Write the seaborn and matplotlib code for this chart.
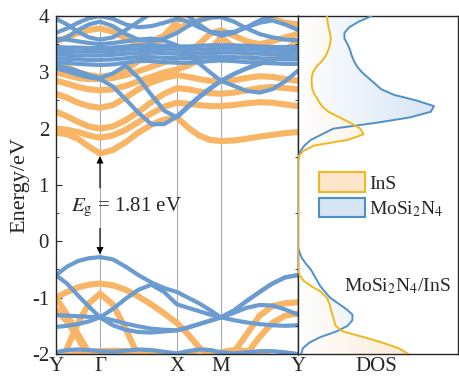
import numpy as np
import pandas as pd
import matplotlib
matplotlib.use('Agg')
import matplotlib.pyplot as plt
import seaborn as sns
from matplotlib.colors import LinearSegmentedColormap
from matplotlib.patches import Patch

# high-symmetry path Y-G-X-M-Y (segment lengths from the figure)
kpath_labels = ['Y', 'Γ', 'X', 'M', 'Y']
kpath_pos = [0.0, 1.0, 2.75, 3.75, 5.5]
seg_points = [5, 7, 5, 7]

# InS bands (orange), energies in eV at each k sample
ins_bands = {
    'v1': [-1.00, -0.90, -0.82, -0.77, -0.75, -0.78, -0.86, -0.98, -1.12, -1.28, -1.45, -1.65, -1.88, -2.05, -2.15, -1.97, -1.65, -1.32, -1.15, -1.10, -1.08],
    'v2': [-2.60, -1.90, -1.45, -1.10, -0.93, -1.12, -1.55, -2.05, -2.50, -2.70, -2.80, -2.80, -2.70, -2.60, -2.50, -2.45, -2.40, -2.30, -2.20, -2.10, -2.05],
    'v3': [-1.00, -1.30, -1.65, -1.98, -2.25, -2.40, -2.45, -2.40, -2.30, -2.15, -2.05, -1.98, -1.93, -1.95, -2.00, -2.10, -2.30, -2.45, -2.50, -2.40, -2.30],
    'v4': [-2.10, -2.04, -1.99, -1.96, -1.95, -1.94, -1.95, -1.97, -2.00, -2.03, -2.08, -2.10, -2.08, -2.04, -1.97, -1.93, -1.95, -2.00, -2.06, -2.10, -2.12],
    'v5': [-1.22, -1.42, -1.72, -2.05, -2.40, -2.60, -2.70, -2.70, -2.65, -2.60, -2.55, -2.55, -2.50, -2.45, -2.40, -2.25, -2.00, -1.70, -1.45, -1.32, -1.28],
    'c1': [1.93, 1.90, 1.82, 1.68, 1.56, 1.62, 1.76, 1.93, 2.07, 2.16, 2.20, 2.02, 1.88, 1.80, 1.78, 1.79, 1.82, 1.86, 1.89, 1.92, 1.94],
    'c2': [2.00, 1.98, 1.94, 1.88, 1.84, 1.88, 1.98, 2.12, 2.27, 2.39, 2.46, 2.44, 2.42, 2.40, 2.40, 2.42, 2.45, 2.47, 2.46, 2.43, 2.40],
    'c3': [2.30, 2.22, 2.12, 2.04, 2.00, 2.04, 2.15, 2.30, 2.47, 2.62, 2.72, 2.70, 2.66, 2.63, 2.62, 2.64, 2.68, 2.72, 2.74, 2.72, 2.70],
    'c4': [2.62, 2.55, 2.46, 2.40, 2.37, 2.42, 2.55, 2.70, 2.82, 2.90, 2.95, 2.92, 2.88, 2.85, 2.84, 2.86, 2.90, 2.93, 2.92, 2.88, 2.85],
    'c5': [2.85, 2.80, 2.74, 2.70, 2.68, 2.70, 2.76, 2.84, 2.92, 3.00, 3.05, 3.12, 3.22, 3.40, 3.62, 3.45, 3.30, 3.20, 3.25, 3.40, 3.55],
    'c6': [3.00, 2.95, 2.90, 2.88, 2.88, 2.90, 2.95, 3.02, 3.10, 3.18, 3.25, 3.35, 3.50, 3.68, 3.75, 3.65, 3.55, 3.50, 3.55, 3.62, 3.68],
    'c7': [3.55, 3.62, 3.70, 3.75, 3.78, 3.72, 3.60, 3.52, 3.55, 3.65, 3.78, 3.85, 3.92, 3.98, 4.05, 4.10, 4.10, 4.05, 3.95, 3.88, 3.85],
    'c8': [3.20, 3.10, 3.00, 2.95, 2.92, 2.95, 3.05, 3.20, 3.40, 3.65, 3.90, 4.10, 4.20, 4.20, 4.20, 4.20, 4.20, 4.20, 4.20, 4.20, 4.20],
}

# MoSi2N4 bands (blue)
mosi_bands = {
    'v1': [-0.60, -0.45, -0.35, -0.30, -0.28, -0.32, -0.45, -0.60, -0.73, -0.83, -0.90, -1.00, -1.10, -1.22, -1.35, -1.23, -1.06, -0.90, -0.75, -0.64, -0.60],
    'v2': [-0.60, -0.75, -0.96, -1.16, -1.35, -1.49, -1.57, -1.61, -1.62, -1.60, -1.58, -1.53, -1.47, -1.41, -1.35, -1.27, -1.18, -1.13, -1.14, -1.21, -1.30],
    'v3': [-1.52, -1.50, -1.47, -1.42, -1.35, -1.20, -1.02, -0.86, -0.77, -0.90, -1.12, -1.18, -1.24, -1.30, -1.35, -1.40, -1.44, -1.47, -1.49, -1.50, -1.49],
    'v4': [-1.31, -1.32, -1.33, -1.34, -1.35, -1.40, -1.46, -1.51, -1.55, -1.57, -1.58, -1.53, -1.47, -1.41, -1.35, -1.23, -1.06, -0.90, -0.75, -0.64, -0.60],
    'v5': [-1.97, -1.93, -1.92, -1.93, -1.95, -1.96, -1.94, -1.92, -1.93, -1.96, -1.99, -1.95, -1.92, -1.93, -1.97, -1.99, -1.97, -1.95, -1.95, -1.97, -2.00],
    'c1': [3.07, 3.02, 2.96, 2.91, 2.88, 2.75, 2.52, 2.28, 2.08, 2.08, 2.22, 2.40, 2.57, 2.72, 2.85, 2.97, 3.07, 3.15, 3.22, 3.27, 3.30],
    'c2': [3.12, 3.08, 3.02, 2.95, 2.90, 2.98, 3.12, 2.90, 2.60, 2.32, 2.20, 2.38, 2.55, 2.70, 2.85, 2.76, 2.67, 2.64, 2.70, 2.84, 3.03],
    'c3': [3.60, 3.58, 3.55, 3.52, 3.50, 3.52, 3.55, 3.58, 3.60, 3.56, 3.48, 3.33, 3.16, 3.00, 2.85, 2.97, 3.07, 3.15, 3.22, 3.27, 3.30],
    'd1': [3.18, 3.17, 3.15, 3.14, 3.13, 3.14, 3.17, 3.20, 3.20, 3.18, 3.17, 3.17, 3.18, 3.20, 3.21, 3.20, 3.18, 3.17, 3.16, 3.15, 3.15],
    'd2': [3.25, 3.24, 3.23, 3.22, 3.22, 3.23, 3.25, 3.27, 3.27, 3.26, 3.25, 3.25, 3.26, 3.27, 3.27, 3.27, 3.26, 3.25, 3.24, 3.23, 3.23],
    'd3': [3.32, 3.31, 3.30, 3.30, 3.30, 3.31, 3.33, 3.34, 3.35, 3.34, 3.33, 3.32, 3.33, 3.34, 3.35, 3.35, 3.34, 3.33, 3.32, 3.31, 3.30],
    'd4': [3.38, 3.38, 3.37, 3.37, 3.37, 3.38, 3.40, 3.41, 3.42, 3.41, 3.40, 3.40, 3.40, 3.41, 3.42, 3.42, 3.41, 3.40, 3.39, 3.38, 3.38],
    'd5': [3.45, 3.44, 3.44, 3.43, 3.43, 3.44, 3.46, 3.48, 3.48, 3.47, 3.46, 3.46, 3.47, 3.48, 3.48, 3.48, 3.47, 3.46, 3.45, 3.45, 3.45],
    'u1': [3.55, 3.62, 3.75, 3.85, 3.90, 3.82, 3.68, 3.58, 3.55, 3.60, 3.70, 3.82, 3.92, 3.97, 3.98, 3.90, 3.78, 3.68, 3.62, 3.58, 3.57],
    'u2': [3.95, 3.85, 3.72, 3.62, 3.58, 3.62, 3.75, 3.90, 4.05, 4.10, 4.10, 4.00, 3.85, 3.72, 3.65, 3.70, 3.80, 3.92, 4.00, 4.05, 4.05],
    'u3': [3.70, 3.78, 3.88, 3.96, 4.00, 3.95, 3.85, 3.80, 3.82, 3.88, 3.95, 3.90, 3.80, 3.72, 3.70, 3.72, 3.80, 3.88, 3.92, 3.85, 3.75],
}

# projected DOS (arb. units) on an energy grid from -2 to 4 eV, step 0.1
dos_ins = [0.69, 0.63, 0.53, 0.41, 0.28, 0.235, 0.225, 0.215, 0.205, 0.195,
           0.18, 0.145, 0.085, 0.035, 0.01, 0.0, 0.0, 0.0, 0.0, 0.0,
           0.0, 0.0, 0.0, 0.0, 0.0, 0.0, 0.0, 0.0, 0.0, 0.0,
           0.0, 0.0, 0.0, 0.0, 0.0, 0.003, 0.03, 0.10, 0.31, 0.41,
           0.39, 0.33, 0.26, 0.19, 0.15, 0.127, 0.105, 0.09, 0.085, 0.085,
           0.093, 0.115, 0.15, 0.175, 0.19, 0.20, 0.205, 0.20, 0.19, 0.185, 0.18]
dos_mosi = [0.02, 0.03, 0.07, 0.14, 0.24, 0.31, 0.34, 0.34, 0.30, 0.25,
            0.20, 0.17, 0.14, 0.12, 0.10, 0.08, 0.05, 0.025, 0.01, 0.0,
            0.0, 0.0, 0.0, 0.0, 0.0, 0.0, 0.0, 0.0, 0.0, 0.0,
            0.0, 0.0, 0.0, 0.0, 0.0, 0.003, 0.015, 0.04, 0.08, 0.15,
            0.22, 0.48, 0.70, 0.83, 0.85, 0.74, 0.60, 0.52, 0.48, 0.44,
            0.40, 0.37, 0.35, 0.335, 0.325, 0.31, 0.29, 0.29, 0.32, 0.38, 0.46]

c_ins = '#f8b565'
c_mosi = '#6a9bd1'
c_ins_dos = '#f2b71f'
c_mosi_dos = '#4f8fcb'

# k sample grid along the path
kgrid = [np.linspace(kpath_pos[i], kpath_pos[i + 1], n) for i, n in enumerate(seg_points)]
kgrid = np.concatenate([kgrid[0]] + [g[1:] for g in kgrid[1:]])
dos_energy = np.round(np.arange(-2.0, 4.0001, 0.1), 2)

rows = []
for mat, bands in [('InS', ins_bands), ('MoSi2N4', mosi_bands)]:
    for name, vals in bands.items():
        for k, e in zip(kgrid, vals):
            rows.append((mat, f'{mat}_{name}', k, e))
df = pd.DataFrame(rows, columns=['material', 'band', 'k', 'energy'])

sns.set_style('ticks')
plt.rcParams['font.family'] = ['Liberation Serif', 'DejaVu Serif']
plt.rcParams['mathtext.fontset'] = 'stix'
plt.rcParams['axes.linewidth'] = 1.0
plt.rcParams['axes.unicode_minus'] = False

fig, (ax, axd) = plt.subplots(1, 2, figsize=(4.6, 3.79), dpi=100, sharey=True,
                              gridspec_kw={'width_ratios': [242, 160]})
fig.subplots_adjust(left=0.1217, right=0.9957, top=0.9578, bottom=0.066, wspace=0)

for kx in kpath_pos[1:-1]:
    ax.axvline(kx, color='#aaaaaa', lw=0.8, zorder=0)

sns.lineplot(data=df[df.material == 'InS'], x='k', y='energy', units='band',
             estimator=None, sort=False, color=c_ins, lw=4.4, ax=ax,
             solid_joinstyle='round', solid_capstyle='round', legend=False)
sns.lineplot(data=df[df.material == 'MoSi2N4'], x='k', y='energy', units='band',
             estimator=None, sort=False, color=c_mosi, lw=3.0, ax=ax,
             solid_joinstyle='round', solid_capstyle='round', legend=False)

ax.set_xlim(kpath_pos[0], kpath_pos[-1])
ax.set_ylim(-2, 4)
ax.set_xticks(kpath_pos)
ax.set_xticklabels(kpath_labels, fontsize=15)
ax.set_xlabel('')
ax.set_ylabel('Energy/eV', fontsize=16, labelpad=2)
ax.set_yticks(range(-2, 5))
ax.set_yticks(np.arange(-2, 4.01, 0.5), minor=True)
ax.tick_params(axis='y', direction='in', labelsize=15, length=4, pad=5)
ax.tick_params(axis='y', which='minor', direction='in', length=2)
ax.tick_params(axis='x', length=0, pad=2)

# band gap annotation
vbm = max(mosi_bands['v1'])
cbm = min(ins_bands['c1'])
k_gamma = kpath_pos[1]
ax.annotate('', xy=(k_gamma, cbm), xytext=(k_gamma, 0.9),
            arrowprops=dict(arrowstyle='-|>', color='black', lw=0.8, mutation_scale=10))
ax.annotate('', xy=(k_gamma, vbm), xytext=(k_gamma, 0.28),
            arrowprops=dict(arrowstyle='-|>', color='black', lw=0.8, mutation_scale=10))
ax.text(1.61, 0.60, r'$E_\mathrm{g}$ = 1.81 eV', fontsize=15, ha='center', va='center')

# DOS panel with gradient fills
for vals, line_c, top_c in [(dos_mosi, c_mosi_dos, '#c4d9ef'), (dos_ins, c_ins_dos, '#fbdcb8')]:
    poly = axd.fill_betweenx(dos_energy, 0, vals, color='none', lw=0)
    cmap = LinearSegmentedColormap.from_list('g', ['#ffffff', top_c])
    im = axd.imshow(np.linspace(0, 1, 256).reshape(1, -1), extent=[0, 1, -2, 4],
                    aspect='auto', cmap=cmap, origin='lower', zorder=1, alpha=0.8)
    im.set_clip_path(poly.get_paths()[0], transform=axd.transData)
sns.lineplot(x=dos_mosi, y=dos_energy, sort=False, orient='y', color=c_mosi_dos, lw=1.4, ax=axd, zorder=3)
sns.lineplot(x=dos_ins, y=dos_energy, sort=False, orient='y', color=c_ins_dos, lw=1.4, ax=axd, zorder=4)

axd.set_xlim(0, 1)
axd.set_ylim(-2, 4)
axd.set_xticks([0.49])
axd.set_xticklabels(['DOS'], fontsize=15)
axd.tick_params(axis='x', length=0, pad=2)
axd.tick_params(axis='y', left=False, labelleft=False)
axd.set_ylabel('')

handles = [Patch(facecolor='#fde6cc', edgecolor=c_ins_dos, lw=1.5, label='InS'),
           Patch(facecolor='#d6e4f3', edgecolor=c_mosi_dos, lw=1.5, label=r'MoSi$_2$N$_4$')]
axd.legend(handles=handles, loc='upper left', bbox_to_anchor=(0.08, 0.56), frameon=False,
           fontsize=14, handlelength=2.4, handleheight=1.15, handletextpad=0.2,
           labelspacing=0.25, borderaxespad=0)
axd.text(0.62, -0.80, r'MoSi$_2$N$_4$/InS', fontsize=14, ha='center', va='center')

fig.savefig('out.png', dpi=100)
